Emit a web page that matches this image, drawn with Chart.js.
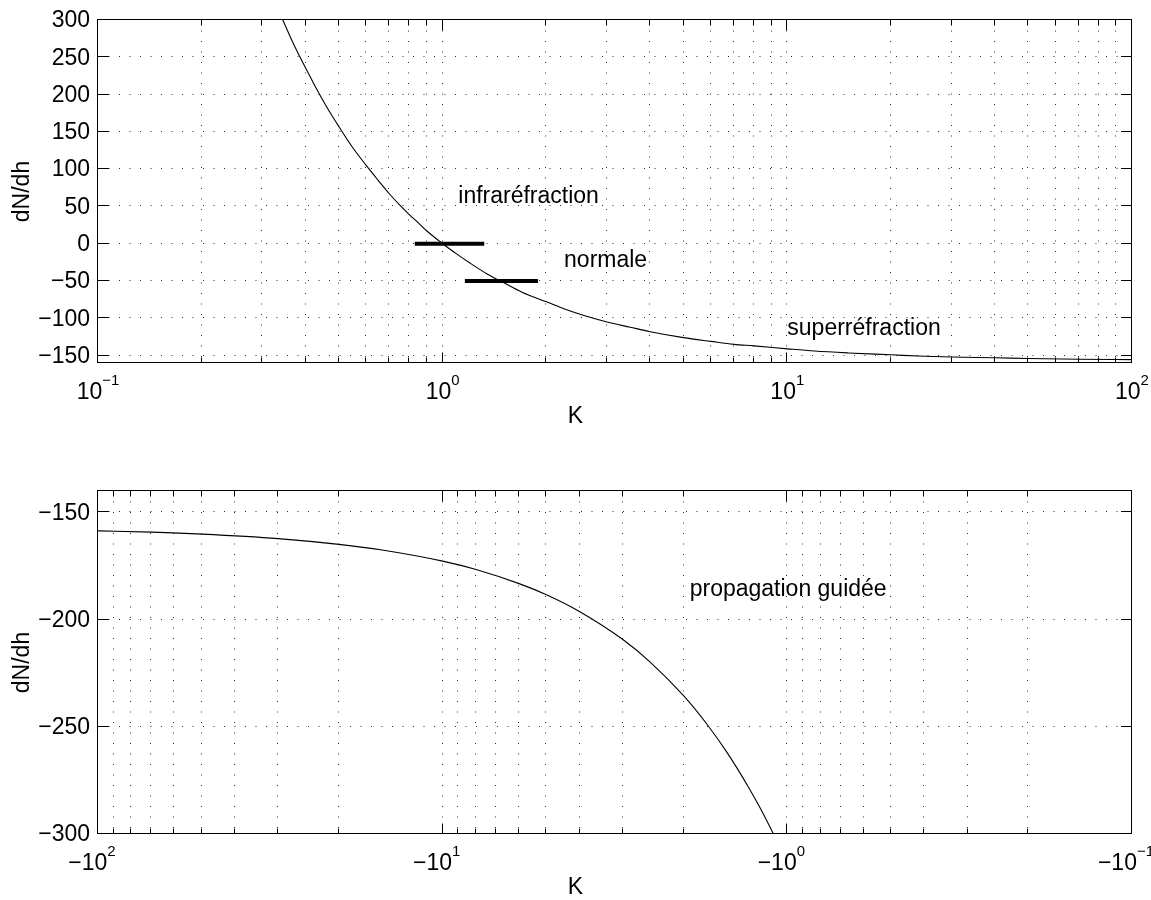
<!DOCTYPE html>
<html>
<head>
<meta charset="utf-8">
<title>dN/dh en fonction de K</title>
<script src="https://cdn.jsdelivr.net/npm/chart.js@4/dist/chart.umd.min.js"></script>
<style>
  html, body { margin: 0; padding: 0; background: #fff; }
  .panel { position: absolute; left: 0; width: 1151px; height: 450px; }
  #topWrap { top: 0; }
  #bottomWrap { top: 450px; }
  canvas { display: block; }
</style>
</head>
<body>
<div class="panel" id="topWrap"><canvas id="topChart" width="1151" height="450"></canvas></div>
<div class="panel" id="bottomWrap"><canvas id="bottomChart" width="1151" height="450"></canvas></div>
<script>
// ---- Panel 1: K > 0 ----
const kPos    = [0.34, 0.36, 0.38, 0.40, 0.43, 0.46, 0.50, 0.55, 0.60, 0.65, 0.70, 0.75, 0.80, 0.85, 0.90, 1.00,
                 1.10, 1.20, 1.35, 1.50, 1.70, 2.00, 2.30, 2.60, 3.00, 3.50, 4.00, 5.00, 6.00, 7.00, 8.00,
                 10.0, 12.0, 15.0, 20.0, 25.0, 30.0, 40.0, 50.0, 70.0, 100.0];
const dndhPos = [305, 279, 256, 236, 208, 184, 157, 128, 105, 85, 67, 52, 39, 28, 17, 0,
                 -14, -26, -41, -52, -65, -78, -89, -97, -105, -112, -118, -126, -131, -135, -137,
                 -141, -144, -146.5, -149, -151, -152, -153, -154, -155, -155.5];

// horizontal bars marking the "normale" band
const barUpperK = [0.83, 1.32];
const barUpperLevel = 0;
const barLowerK = [1.16, 1.89];
const barLowerLevel = -50;

// region names of panel 1
const topNotes  = ['infraréfraction', 'normale', 'superréfraction'];
const topNotesK = [1.11, 2.25, 10.0];
const topNotesY = [66, -20, -111];

// ---- Panel 2: K < 0 ----
const kNeg    = [-100, -70, -50, -30, -20, -15, -10, -8, -6, -5, -4, -3, -2.5, -2, -1.7, -1.5, -1.3, -1.2, -1.1, -1.05];
const dndhNeg = [-158.6, -159.2, -160.1, -162.2, -164.9, -167.5, -172.7, -176.6, -183.2, -188.4, -196.3,
                 -209.3, -219.8, -235.5, -249.4, -261.7, -277.8, -287.8, -299.7, -306.5];

const bottomNotes  = ['propagation guidée'];
const bottomNotesK = [-1.92];
const bottomNotesY = [-185];

// ---- Axes ----
const decadeValues = [0.1, 1, 10, 100];
const decadeExponents = [-1, 0, 1, 2];
const minorSteps = [2, 3, 4, 5, 6, 7, 8, 9];
const topYTicks = [300, 250, 200, 150, 100, 50, 0, -50, -100, -150];
const bottomYTicks = [-150, -200, -250, -300];

const FONT = '"Liberation Sans", Arial, Helvetica, sans-serif';
const LABEL_SIZE = 23;
const SUP_SIZE = 15;

function minorValues() {
  const out = [];
  decadeValues.slice(0, -1).forEach(d => minorSteps.forEach(m => out.push(d * m)));
  return out;
}

function drawPower(ctx, cx, baseline, prefix, exp) {
  const base = prefix + '10';
  const sup = exp < 0 ? '\u2212' + Math.abs(exp) : String(exp);
  ctx.font = LABEL_SIZE + 'px ' + FONT;
  const wb = ctx.measureText(base).width;
  ctx.font = SUP_SIZE + 'px ' + FONT;
  const ws = ctx.measureText(sup).width;
  const x0 = cx - (wb + ws) / 2;
  ctx.textAlign = 'left';
  ctx.textBaseline = 'alphabetic';
  ctx.font = LABEL_SIZE + 'px ' + FONT;
  ctx.fillText(base, x0, baseline);
  ctx.font = SUP_SIZE + 'px ' + FONT;
  ctx.fillText(sup, x0 + wb, baseline - 14);
}

// Boxed axes with dotted grid, inward ticks and power-of-ten labels
const boxedAxes = {
  id: 'boxedAxes',
  beforeDatasetsDraw(chart, args, o) {
    const { ctx, chartArea: a, scales: { x, y } } = chart;
    ctx.save();
    ctx.strokeStyle = 'rgba(0,0,0,0.8)';
    ctx.lineWidth = 1;
    ctx.setLineDash([1, 9.5]);
    const xs = decadeValues.concat(minorValues());
    xs.forEach(v => {
      const px = Math.round(x.getPixelForValue(v)) - 0.5;
      if (px < a.left + 1 || px > a.right - 1) return;
      ctx.beginPath();
      ctx.moveTo(px, a.top);
      ctx.lineTo(px, a.bottom);
      ctx.stroke();
    });
    o.yTicks.forEach(v => {
      const py = Math.round(y.getPixelForValue(v)) - 0.5;
      if (py < a.top + 1 || py > a.bottom - 1) return;
      ctx.beginPath();
      ctx.moveTo(a.left, py);
      ctx.lineTo(a.right, py);
      ctx.stroke();
    });
    ctx.restore();
  },
  afterDraw(chart, args, o) {
    const { ctx, chartArea: a, scales: { x, y } } = chart;
    ctx.save();
    ctx.strokeStyle = '#000';
    ctx.fillStyle = '#000';
    ctx.lineWidth = 1;
    ctx.setLineDash([]);
    // frame
    ctx.strokeRect(a.left - 0.5, a.top - 0.5, a.right - a.left, a.bottom - a.top);
    // x ticks (major + minor) on bottom and top edges
    const tick = (v, len) => {
      const px = Math.round(x.getPixelForValue(v)) - 0.5;
      ctx.beginPath();
      ctx.moveTo(px, a.bottom); ctx.lineTo(px, a.bottom - len);
      ctx.moveTo(px, a.top); ctx.lineTo(px, a.top + len);
      ctx.stroke();
    };
    decadeValues.forEach(v => tick(v, 10.5));
    minorValues().forEach(v => tick(v, 5.5));
    // y ticks on left and right edges
    o.yTicks.forEach(v => {
      const py = Math.round(y.getPixelForValue(v)) - 0.5;
      ctx.beginPath();
      ctx.moveTo(a.left, py); ctx.lineTo(a.left + 11, py);
      ctx.moveTo(a.right, py); ctx.lineTo(a.right - 11, py);
      ctx.stroke();
    });
    // y tick labels
    ctx.font = LABEL_SIZE + 'px ' + FONT;
    ctx.textAlign = 'right';
    ctx.textBaseline = 'middle';
    o.yTicks.forEach(v => {
      const label = v < 0 ? '\u2212' + Math.abs(v) : String(v);
      ctx.fillText(label, a.left - 8, y.getPixelForValue(v) + 1);
    });
    // x tick labels
    decadeValues.forEach((v, i) => {
      drawPower(ctx, x.getPixelForValue(v) + o.labelShift, a.bottom + 35.5, o.prefix, decadeExponents[i]);
    });
    // axis titles
    ctx.font = LABEL_SIZE + 'px ' + FONT;
    ctx.textAlign = 'center';
    ctx.textBaseline = 'alphabetic';
    ctx.fillText('K', 575.5, a.bottom + 60);
    ctx.save();
    ctx.translate(28.5, (a.top + a.bottom) / 2);
    ctx.rotate(-Math.PI / 2);
    ctx.fillText('dN/dh', 0, 0);
    ctx.restore();
    // region names
    ctx.textAlign = 'left';
    ctx.textBaseline = 'alphabetic';
    o.notes.forEach((t, i) => {
      const px = x.getPixelForValue(Math.abs(o.notesK[i]));
      const py = y.getPixelForValue(o.notesY[i]) + 0.36 * LABEL_SIZE;
      ctx.fillText(t, px, py);
    });
    ctx.restore();
  }
};

function curve(points, width) {
  return {
    data: points,
    borderColor: '#000',
    borderWidth: width,
    pointRadius: 0,
    fill: false,
    cubicInterpolationMode: 'monotone',
    borderCapStyle: 'butt'
  };
}

function makeOptions(padTop, axisHeight, yMin, yMax, reverse, pluginOpts) {
  return {
    responsive: false,
    animation: false,
    events: [],
    layout: { padding: { top: padTop, right: 19, left: 0, bottom: 0 } },
    plugins: { legend: { display: false }, tooltip: { enabled: false }, boxedAxes: pluginOpts },
    scales: {
      x: {
        type: 'logarithmic', min: 0.1, max: 100, reverse: reverse,
        grid: { display: false }, border: { display: false }, ticks: { display: false },
        afterFit(s) { s.height = axisHeight; }
      },
      y: {
        type: 'linear', min: yMin, max: yMax,
        grid: { display: false }, border: { display: false }, ticks: { display: false },
        afterFit(s) { s.width = 98; }
      }
    }
  };
}

new Chart(document.getElementById('topChart'), {
  type: 'line',
  data: {
    datasets: [
      curve(kPos.map((k, i) => ({ x: k, y: dndhPos[i] })), 1.1),
      curve(barUpperK.map(k => ({ x: k, y: barUpperLevel })), 4),
      curve(barLowerK.map(k => ({ x: k, y: barLowerLevel })), 4)
    ]
  },
  options: makeOptions(20, 87, -160, 300, false, {
    yTicks: topYTicks, prefix: '', labelShift: 0,
    notes: topNotes, notesK: topNotesK, notesY: topNotesY
  }),
  plugins: [boxedAxes]
});

// the lower x axis is graduated in -K on a reversed log scale
new Chart(document.getElementById('bottomChart'), {
  type: 'line',
  data: {
    datasets: [
      curve(kNeg.map((k, i) => ({ x: Math.abs(k), y: dndhNeg[i] })), 1.1)
    ]
  },
  options: makeOptions(41, 66, -300, -140, true, {
    yTicks: bottomYTicks, prefix: '\u2212', labelShift: -6,
    notes: bottomNotes, notesK: bottomNotesK, notesY: bottomNotesY
  }),
  plugins: [boxedAxes]
});
</script>
</body>
</html>
